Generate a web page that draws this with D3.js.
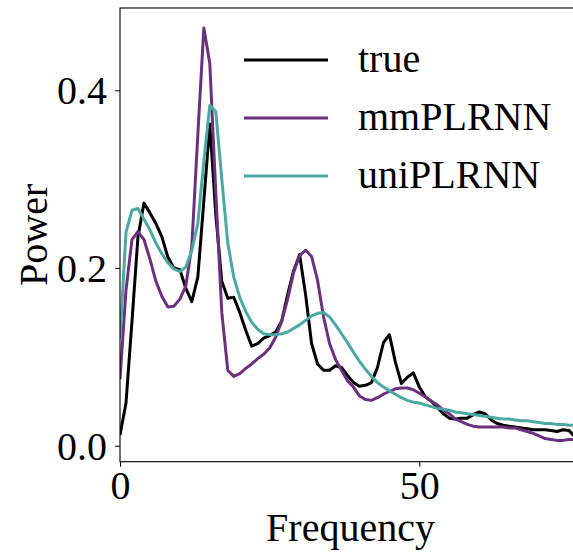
<!DOCTYPE html>
<html>
<head>
<meta charset="utf-8">
<script src="https://cdn.jsdelivr.net/npm/d3@7"></script>
<style>
  html, body { margin: 0; padding: 0; background: #fff; overflow: hidden; }
  svg { display: block; }
  text { font-family: "Liberation Serif", "DejaVu Serif", serif; fill: #000; }
</style>
</head>
<body>
<svg id="chart" width="573" height="553"></svg>
<script>
// Power spectra: ground truth vs. two trained PLRNN variants, sampled at integer frequencies
const frequency = d3.range(0, 78);

const truePower = [
  0.012, 0.048, 0.140, 0.235, 0.273, 0.262, 0.250, 0.235, 0.212, 0.200,
  0.198, 0.177, 0.162, 0.190, 0.275, 0.362, 0.260, 0.185, 0.166, 0.167,
  0.150, 0.130, 0.112, 0.115, 0.121, 0.124, 0.128, 0.140, 0.170, 0.197,
  0.215, 0.170, 0.115, 0.092, 0.085, 0.085, 0.090, 0.088, 0.079, 0.071,
  0.067, 0.068, 0.071, 0.088, 0.116, 0.125, 0.094, 0.070, 0.077, 0.082,
  0.066, 0.055, 0.050, 0.043, 0.036, 0.031, 0.030, 0.031, 0.031, 0.035,
  0.038, 0.036, 0.029, 0.025, 0.023, 0.022, 0.021, 0.020, 0.019, 0.018,
  0.018, 0.018, 0.017, 0.016, 0.018, 0.017, 0.010, 0.010
];

const mmPLRNN = [
  0.075, 0.175, 0.232, 0.241, 0.232, 0.210, 0.185, 0.168, 0.156, 0.157,
  0.165, 0.180, 0.225, 0.350, 0.470, 0.430, 0.285, 0.150, 0.085, 0.078,
  0.081, 0.087, 0.092, 0.098, 0.103, 0.110, 0.122, 0.140, 0.165, 0.195,
  0.214, 0.220, 0.213, 0.186, 0.145, 0.115, 0.097, 0.085, 0.073, 0.066,
  0.056, 0.052, 0.051, 0.054, 0.058, 0.061, 0.064, 0.065, 0.065, 0.063,
  0.059, 0.055, 0.050, 0.046, 0.040, 0.036, 0.030, 0.027, 0.024, 0.022,
  0.021, 0.021, 0.021, 0.021, 0.021, 0.020, 0.020, 0.018, 0.016, 0.014,
  0.011, 0.008, 0.007, 0.006, 0.006, 0.007, 0.007, 0.007
];

const uniPLRNN = [
  0.120, 0.240, 0.265, 0.267, 0.255, 0.243, 0.228, 0.216, 0.206, 0.199,
  0.196, 0.201, 0.220, 0.250, 0.320, 0.383, 0.376, 0.300, 0.228, 0.190,
  0.167, 0.151, 0.139, 0.131, 0.126, 0.125, 0.125, 0.126, 0.128, 0.132,
  0.136, 0.141, 0.146, 0.149, 0.150, 0.145, 0.136, 0.126, 0.116, 0.105,
  0.095, 0.086, 0.078, 0.071, 0.066, 0.062, 0.058, 0.054, 0.051, 0.049,
  0.048, 0.046, 0.044, 0.042, 0.041, 0.040, 0.038, 0.037, 0.036, 0.035,
  0.034, 0.033, 0.032, 0.031, 0.030, 0.030, 0.029, 0.028, 0.028, 0.027,
  0.026, 0.025, 0.025, 0.024, 0.024, 0.023, 0.023, 0.023
];

const seriesNames = ["true", "mmPLRNN", "uniPLRNN"];
const seriesColors = ["#000000", "#6b317f", "#4ba9a4"];
const xTicks = [0, 50];
const yTicks = [0.0, 0.2, 0.4];

const series = [truePower, mmPLRNN, uniPLRNN].map((vals, i) => ({
  name: seriesNames[i],
  color: seriesColors[i],
  points: vals.map((v, j) => [frequency[j], v])
}));

const svg = d3.select("#chart");
const plotLeft = 120, plotRight = 581, plotTop = 8, plotBottom = 461.7;

const x = d3.scaleLinear().domain([0, 77]).range([plotLeft, plotRight]);
const y = d3.scaleLinear().domain([-0.018, 0.4926]).range([plotBottom, plotTop]);

svg.append("defs").append("clipPath").attr("id", "plot-clip")
  .append("rect").attr("x", plotLeft).attr("y", plotTop)
  .attr("width", plotRight - plotLeft).attr("height", plotBottom - plotTop);

// spectra
const line = d3.line().x(d => x(d[0])).y(d => y(d[1]));
svg.append("g").attr("clip-path", "url(#plot-clip)")
  .selectAll("path").data(series).join("path")
  .attr("d", d => line(d.points))
  .attr("fill", "none")
  .attr("stroke", d => d.color)
  .attr("stroke-width", 3)
  .attr("stroke-linejoin", "round")
  .attr("stroke-linecap", "butt");

// axes
const xAxis = d3.axisBottom(x).tickValues(xTicks).tickFormat(d3.format("d"))
  .tickSize(5).tickPadding(6);
const yAxis = d3.axisLeft(y).tickValues(yTicks).tickFormat(d3.format(".1f"))
  .tickSize(5).tickPadding(8);

const gx = svg.append("g").attr("transform", `translate(0,${plotBottom})`).call(xAxis);
const gy = svg.append("g").attr("transform", `translate(${plotLeft},0)`).call(yAxis);
[gx, gy].forEach(g => {
  g.select(".domain").remove();
  g.selectAll(".tick line").attr("stroke", "#000").attr("stroke-width", 1);
  g.selectAll(".tick text").attr("font-size", 40)
    .attr("font-family", "Liberation Serif, DejaVu Serif, serif").attr("fill", "#000");
});
gx.selectAll(".tick text").attr("dy", null).attr("y", 37);
gy.selectAll(".tick text").attr("dy", "0.34em");

// frame
svg.append("rect").attr("x", plotLeft).attr("y", plotTop)
  .attr("width", plotRight - plotLeft).attr("height", plotBottom - plotTop)
  .attr("fill", "none").attr("stroke", "#000").attr("stroke-width", 1.1);

// axis titles
svg.append("text").attr("x", (plotLeft + plotRight) / 2).attr("y", 541)
  .attr("text-anchor", "middle").attr("font-size", 40).text("Frequency");
svg.append("text")
  .attr("transform", `translate(47,${(plotTop + plotBottom) / 2}) rotate(-90)`)
  .attr("text-anchor", "middle").attr("font-size", 40).text("Power");

// legend
const legend = svg.append("g").selectAll("g").data(series).join("g")
  .attr("transform", (d, i) => `translate(244,${60 + i * 58})`);
legend.append("line").attr("x1", 0).attr("x2", 84).attr("y1", 0).attr("y2", 0)
  .attr("stroke", d => d.color).attr("stroke-width", 3);
legend.append("text").attr("x", 114).attr("y", 12)
  .attr("font-size", 40).text(d => d.name);
</script>
</body>
</html>
